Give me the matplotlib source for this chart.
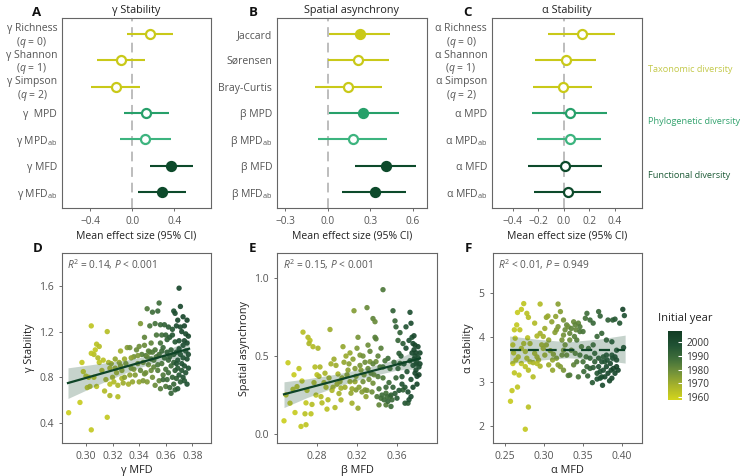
import numpy as np
import matplotlib
matplotlib.use("Agg")
import matplotlib.pyplot as plt
from matplotlib.colors import LinearSegmentedColormap, Normalize
from matplotlib.colorbar import ColorbarBase

plt.rcParams['font.family'] = ['Open Sans', 'DejaVu Sans']
plt.rcParams['mathtext.fontset'] = 'custom'
plt.rcParams['mathtext.rm'] = 'Open Sans'
plt.rcParams['mathtext.it'] = 'Open Sans:italic'
plt.rcParams['mathtext.bf'] = 'Open Sans:bold'

# ---------------- forest-plot data ----------------
A_labels = ['γ Richness\n($q$ = 0)', 'γ Shannon\n($q$ = 1)', 'γ Simpson\n($q$ = 2)',
            'γ  MPD', 'γ MPD$_{\\mathrm{ab}}$', 'γ MFD', 'γ MFD$_{\\mathrm{ab}}$']
A_mean = [0.17, -0.11, -0.16, 0.13, 0.12, 0.37, 0.28]
A_lo = [-0.05, -0.34, -0.39, -0.08, -0.12, 0.17, 0.05]
A_hi = [0.39, 0.12, 0.07, 0.35, 0.37, 0.58, 0.51]
A_filled = [False, False, False, False, False, True, True]

B_labels = ['Jaccard', 'Sørensen', 'Bray-Curtis', 'β MPD', 'β MPD$_{\\mathrm{ab}}$',
            'β MFD', 'β MFD$_{\\mathrm{ab}}$']
B_mean = [0.226, 0.21, 0.14, 0.25, 0.18, 0.41, 0.33]
B_lo = [0.007, 0.0, -0.09, 0.007, -0.07, 0.19, 0.10]
B_hi = [0.44, 0.43, 0.38, 0.50, 0.42, 0.62, 0.55]
B_filled = [True, False, False, True, False, True, True]

C_labels = ['α Richness\n($q$ = 0)', 'α Shannon\n($q$ = 1)', 'α Simpson\n($q$ = 2)',
            'α MPD', 'α MPD$_{\\mathrm{ab}}$', 'α MFD', 'α MFD$_{\\mathrm{ab}}$']
C_mean = [0.14, 0.015, -0.01, 0.05, 0.045, 0.01, 0.03]
C_lo = [-0.125, -0.225, -0.24, -0.245, -0.21, -0.28, -0.235]
C_hi = [0.40, 0.25, 0.22, 0.34, 0.29, 0.30, 0.29]
C_filled = [False, False, False, False, False, False, False]

row_groups = ['tax', 'tax', 'tax', 'phy', 'phy_ab', 'fun', 'fun']
group_names = ['Taxonomic diversity', 'Phylogenetic diversity', 'Functional diversity']

# ---------------- scatter data ----------------
d_x = [0.287,0.2955,0.297,0.298,0.300,0.302,0.301,0.303,0.304,0.304,
       0.306,0.304,0.307,0.308,0.309,0.310,0.310,0.306,0.308,0.312,
       0.313,0.314,0.316,0.316,0.315,0.317,0.318,0.318,0.318,0.319,
       0.320,0.321,0.322,0.322,0.323,0.324,0.324,0.325,0.326,0.327,
       0.327,0.328,0.329,0.330,0.331,0.332,0.333,0.333,0.334,0.335,
       0.336,0.337,0.338,0.339,0.340,0.340,0.341,0.341,0.342,0.343,
       0.343,0.344,0.344,0.345,0.345,0.346,0.346,0.347,0.347,0.348,
       0.348,0.349,0.349,0.350,0.350,0.350,0.351,0.352,0.352,0.352,
       0.353,0.353,0.354,0.354,0.355,0.355,0.355,0.356,0.356,0.356,
       0.357,0.357,0.358,0.358,0.359,0.359,0.360,0.360,0.360,0.361,
       0.361,0.362,0.362,0.362,0.363,0.363,0.364,0.364,0.364,0.365,
       0.365,0.366,0.366,0.366,0.366,0.367,0.367,0.367,0.368,0.368,
       0.368,0.369,0.369,0.369,0.370,0.370,0.370,0.370,0.371,0.371,
       0.371,0.372,0.372,0.372,0.373,0.373,0.373,0.373,0.374,0.374,
       0.374,0.374,0.375,0.375,0.375,0.376,0.376,0.376,0.376,0.377,
       0.377,0.377,0.367,0.369,0.365,0.368,0.371,0.363,0.361,0.358,
       0.357,0.354,0.351,0.349,0.346,0.344,0.339,0.336,0.334,0.329,
       0.326]
d_y = [0.49,0.58,0.93,0.85,0.81,0.80,0.71,0.72,0.34,1.25,
       1.00,1.01,1.04,1.09,0.97,0.93,1.07,0.80,0.72,0.86,
       0.95,0.68,0.45,1.20,0.78,0.93,0.88,0.74,0.64,0.92,
       0.80,0.76,0.88,0.96,0.84,0.63,0.73,0.93,0.90,0.79,
       0.86,0.75,0.80,0.92,1.06,0.74,1.06,0.82,0.88,0.76,
       0.98,0.82,1.04,0.92,0.76,1.07,1.27,0.86,1.00,0.93,
       0.77,1.15,1.08,0.84,0.99,1.40,0.76,1.03,0.91,1.25,
       1.02,0.86,0.96,1.37,1.02,0.80,0.89,1.27,1.04,0.73,
       1.17,0.98,1.38,0.86,1.45,1.00,0.77,1.26,1.10,0.70,
       1.17,0.92,1.06,0.82,1.26,0.97,1.17,0.87,0.72,1.02,
       0.78,1.24,0.95,0.84,1.15,0.71,1.04,0.66,0.90,1.17,
       0.80,1.38,1.00,0.93,0.74,1.36,1.11,0.86,1.25,1.02,
       0.79,1.30,0.95,0.88,1.58,1.12,1.05,0.82,1.42,1.00,
       0.76,1.20,0.92,0.86,1.33,1.08,0.97,0.80,1.25,1.12,
       0.90,0.77,1.18,1.03,0.84,1.30,1.10,0.96,0.74,1.16,
       1.00,0.88,0.69,0.70,1.22,0.92,1.24,0.98,1.13,0.78,
       1.03,0.91,0.95,1.10,0.98,0.83,0.99,0.87,0.97,0.96,
       1.03]
d_year = [1960,1961,1962,1960,1963,1962,1961,1964,1962,1963,
          1965,1963,1962,1964,1966,1963,1965,1962,1964,1966,
          1964,1966,1962,1965,1967,1968,1966,1964,1967,1970,
          1968,1966,1970,1972,1969,1965,1967,1971,1973,1968,
          1972,1970,1974,1976,1975,1969,1978,1973,1976,1972,
          1978,1975,1980,1977,1972,1979,1976,1981,1983,1978,
          1976,1982,1980,1978,1984,1985,1975,1983,1979,1986,
          1983,1980,1985,1988,1984,1978,1982,1987,1985,1980,
          1986,1983,1990,1984,1988,1986,1982,1990,1987,1984,
          1988,1986,1990,1985,1992,1989,1991,1987,1985,1993,
          1989,1994,1990,1988,1995,1990,1993,1991,1989,1996,
          1992,1998,1995,1993,1990,1999,1996,1994,2000,1997,
          1993,2001,1998,1995,2003,1999,2000,1996,2002,1998,
          1995,2001,1998,1996,2003,2000,1999,1997,2002,2001,
          1998,1996,2000,1999,1997,2004,2002,2000,1998,2003,
          2001,1999,1992,1995,1996,1997,2000,1993,1992,1990,
          1989,1986,1984,1982,1980,1979,1976,1975,1973,1970,
          1969]

e_x = [0.247,0.251,0.249,0.253,0.256,0.258,0.260,0.264,0.266,0.269,
       0.271,0.273,0.272,0.269,0.274,0.276,0.281,0.278,0.283,0.280,
       0.284,0.288,0.289,0.290,0.293,0.294,0.296,0.298,0.299,0.301,
       0.303,0.304,0.304,0.306,0.309,0.311,0.313,0.314,0.315,0.317,
       0.316,0.318,0.319,0.321,0.321,0.323,0.324,0.326,0.328,0.329,
       0.330,0.331,0.333,0.334,0.336,0.336,0.338,0.339,0.339,0.341,
       0.342,0.346,0.344,0.346,0.349,0.349,0.351,0.353,0.354,0.356,
       0.358,0.359,0.361,0.362,0.363,0.365,0.366,0.368,0.369,0.371,
       0.373,0.374,0.375,0.376,0.377,0.378,0.379,0.379,0.380,0.381,
       0.382,0.383,
       0.262,0.257,0.265,0.268,0.270,0.275,0.277,0.279,0.282,0.285,
       0.287,0.291,0.292,0.295,0.297,0.300,0.302,0.305,0.307,0.308,
       0.310,0.312,0.313,0.315,0.318,0.319,0.320,0.322,0.323,0.325,
       0.326,0.327,0.328,0.330,0.331,0.332,0.333,0.335,0.336,0.337,
       0.338,0.340,0.341,0.342,0.343,0.344,0.345,0.346,0.347,0.348,
       0.349,0.350,0.351,0.352,0.353,0.354,0.355,0.356,0.357,0.358,
       0.359,0.360,0.361,0.362,0.363,0.364,0.365,0.366,0.367,0.368,
       0.369,0.370,0.371,0.372,0.373,0.374,0.375,0.376,0.376,0.377,
       0.377,0.378,0.378,0.379,0.380,0.380,0.381,0.382,0.383,0.372,
       0.374]
e_y = [0.085,0.457,0.251,0.198,0.287,0.138,0.304,0.049,0.653,0.060,
       0.620,0.600,0.580,0.200,0.130,0.560,0.550,0.430,0.430,0.380,
       0.240,0.390,0.300,0.160,0.670,0.450,0.300,0.170,0.440,0.385,
       0.336,0.294,0.219,0.560,0.500,0.410,0.336,0.262,0.198,0.790,
       0.480,0.336,0.283,0.166,0.620,0.506,0.410,0.336,0.283,0.240,
       0.810,0.570,0.464,0.390,0.326,0.740,0.720,0.610,0.464,0.368,
       0.187,0.925,0.550,0.430,0.262,0.187,0.485,0.240,0.177,0.790,
       0.725,0.687,0.600,0.517,0.453,0.368,0.283,0.198,0.687,0.198,
       0.780,0.710,0.620,0.580,0.540,0.500,0.450,0.410,0.370,0.560,
       0.430,0.520,
       0.42,0.38,0.34,0.13,0.28,0.19,0.33,0.25,0.37,0.20,
       0.33,0.22,0.36,0.28,0.48,0.32,0.26,0.36,0.46,0.30,
       0.38,0.45,0.52,0.29,0.42,0.37,0.55,0.30,0.44,0.27,
       0.50,0.38,0.46,0.28,0.42,0.35,0.53,0.27,0.45,0.38,
       0.62,0.24,0.50,0.29,0.43,0.23,0.25,0.36,0.22,0.47,
       0.30,0.24,0.21,0.33,0.42,0.25,0.22,0.30,0.46,0.26,
       0.36,0.23,0.42,0.28,0.65,0.50,0.32,0.58,0.45,0.30,
       0.55,0.40,0.27,0.60,0.47,0.35,0.52,0.44,0.30,0.63,
       0.48,0.39,0.57,0.52,0.46,0.32,0.49,0.38,0.45,0.22,
       0.24]
e_year = [1960,1961,1962,1960,1963,1961,1964,1962,1965,1963,
          1966,1964,1967,1962,1963,1966,1968,1965,1967,1964,
          1966,1968,1965,1964,1970,1969,1967,1966,1970,1968,
          1971,1969,1967,1972,1971,1973,1970,1972,1969,1975,
          1974,1972,1975,1971,1977,1976,1974,1978,1976,1973,
          1980,1979,1977,1981,1978,1982,1980,1983,1979,1984,
          1981,1985,1983,1986,1987,1984,1988,1986,1989,1992,
          1990,1993,1991,1994,1990,1995,1992,1996,1997,1994,
          1999,2000,1998,2002,2001,1999,2003,2000,2002,2004,
          2001,2003,
          1963,1961,1962,1964,1963,1965,1966,1964,1967,1965,
          1968,1966,1969,1967,1970,1968,1969,1971,1972,1970,
          1973,1974,1972,1971,1975,1973,1976,1974,1977,1975,
          1978,1976,1979,1977,1980,1978,1981,1979,1982,1980,
          1983,1985,1982,1986,1984,1987,1988,1985,1989,1986,
          1990,1988,1991,1989,1987,1992,1990,1993,1989,1994,
          1991,1995,1992,1996,1993,1995,1997,1994,1998,1996,
          1999,1997,2000,1998,2001,1999,2002,2000,2003,2001,
          2004,2002,2003,2005,2001,2004,2002,2005,2003,1999,
          2000]

f_x = [0.257,0.259,0.266,0.276,0.280,0.274,0.271,0.266,0.278,0.280,
       0.295,0.265,0.269,0.263,0.260,0.267,0.260,0.262,0.268,0.286,
       0.279,0.282,0.271,0.276,0.278,0.282,0.286,0.291,0.293,0.295,
       0.288,0.295,0.301,0.303,0.305,0.310,0.318,0.321,0.318,0.314,
       0.306,0.303,0.299,0.301,0.308,0.312,0.316,0.306,0.311,0.318,
       0.323,0.325,0.327,0.329,0.331,0.333,0.335,0.338,0.339,0.341,
       0.342,0.344,0.346,0.333,0.327,0.325,0.323,0.329,0.335,0.340,
       0.331,0.333,0.344,0.338,0.342,0.346,0.348,0.353,0.355,0.359,
       0.363,0.370,0.372,0.382,0.388,0.391,0.397,0.401,0.403,0.402,
       0.393,0.387,0.380,0.374,0.368,0.363,0.357,0.354,0.359,0.365,
       0.370,0.376,0.380,0.387,0.391,0.355,0.359,0.363,0.368,0.370,
       0.372,0.374,0.376,0.378,0.380,0.382,0.385,0.386,0.387,0.389,
       0.391,0.393,0.372,0.375,0.362,0.384,0.368,0.365,0.378,0.388,
       0.374,0.381,0.393,0.395,0.346,0.350,0.340,0.316,0.315,0.325,
       0.299,0.291,0.297,0.288,0.261,0.264,0.271,0.276,0.280,0.262,
       0.274,0.291,0.311,0.321,0.325,0.350,0.351,0.356]
f_y = [2.56,2.80,2.88,1.93,2.43,4.76,4.63,4.56,4.54,4.45,
       4.75,4.28,4.17,3.98,3.83,3.56,3.41,3.20,3.15,3.11,
       3.99,3.86,3.75,3.68,3.53,3.45,3.43,3.41,3.49,3.35,
       3.64,4.09,4.20,4.45,4.48,4.35,4.75,4.58,4.24,4.11,
       3.94,3.83,3.75,3.60,3.70,3.62,3.53,3.38,3.49,3.38,
       3.94,4.05,4.17,4.28,4.24,4.09,4.20,4.35,4.02,4.17,
       3.94,4.32,4.13,3.94,3.83,3.71,3.60,3.60,3.71,3.64,
       3.14,3.15,3.11,3.38,3.45,3.60,3.79,4.43,4.54,4.39,
       4.32,4.58,4.48,4.39,4.39,4.41,4.32,4.63,4.49,3.77,
       3.71,3.90,3.94,4.09,4.02,3.83,3.75,3.56,3.53,3.64,
       3.53,3.56,3.60,3.60,3.56,3.34,3.30,3.32,3.19,3.34,
       3.23,3.11,3.26,3.11,3.34,3.19,3.41,3.26,3.08,3.30,
       3.19,3.34,3.08,2.92,2.98,3.02,3.06,3.45,3.45,3.53,
       3.45,3.49,3.49,3.26,4.24,4.13,4.28,4.17,4.47,4.39,
       4.02,4.03,3.83,4.32,3.65,3.49,3.41,3.34,3.26,4.17,
       3.86,3.56,3.26,3.34,3.26,3.45,3.23,3.13]
f_year = [1961,1962,1963,1962,1964,1963,1962,1961,1964,1965,
          1966,1962,1963,1961,1960,1962,1961,1963,1962,1965,
          1964,1966,1963,1965,1964,1966,1967,1965,1968,1967,
          1966,1969,1970,1972,1971,1973,1974,1975,1976,1974,
          1971,1970,1968,1969,1972,1973,1975,1970,1972,1974,
          1977,1978,1979,1980,1978,1981,1982,1980,1983,1981,
          1984,1982,1985,1979,1977,1976,1978,1979,1981,1983,
          1984,1985,1986,1982,1984,1986,1985,1987,1988,1989,
          1990,1991,1992,1993,1994,1995,1996,2004,1998,2000,
          1997,1996,1993,1991,1990,1989,1988,1987,1990,1992,
          1994,1995,1997,1998,2000,1990,1992,1994,1996,1997,
          1998,2000,1999,2001,2000,2002,2001,2003,2002,2004,
          2003,2005,1999,2000,1995,2001,1998,1993,1996,1999,
          1997,1998,2001,2004,1984,1986,1982,1975,1973,1977,
          1969,1967,1968,1966,1961,1962,1963,1964,1965,1962,
          1964,1967,1972,1975,1977,1987,1989,1991]

# fitted lines and confidence bands
d_fit_x = [0.2865, 0.3775]
d_fit_y = [0.75, 1.05]
d_band_x = [0.2865, 0.31, 0.33, 0.35, 0.365, 0.3775]
d_band_lo = [0.615, 0.74, 0.84, 0.925, 0.96, 0.97]
d_band_hi = [0.883, 0.92, 0.95, 0.995, 1.06, 1.13]

e_fit_x = [0.247, 0.383]
e_fit_y = [0.255, 0.485]
e_band_x = [0.247, 0.27, 0.30, 0.33, 0.36, 0.383]
e_band_lo = [0.17, 0.234, 0.305, 0.365, 0.41, 0.42]
e_band_hi = [0.335, 0.354, 0.385, 0.425, 0.48, 0.55]

f_fit_x = [0.256, 0.404]
f_fit_y = [3.72, 3.72]
f_band_x = [0.256, 0.29, 0.33, 0.37, 0.404]
f_band_lo = [3.41, 3.48, 3.54, 3.50, 3.42]
f_band_hi = [4.03, 3.96, 3.90, 3.96, 4.05]

year_ticks = [1960, 1970, 1980, 1990, 2000]

# ---------------- styling ----------------
W, H = 744, 476
fig = plt.figure(figsize=(W / 100, H / 100), dpi=100)

def box(l, t, r, b):
    return [l / W, 1 - b / H, (r - l) / W, (b - t) / H]

col_line = {'tax': '#c9c919', 'phy': '#27a06a', 'phy_ab': '#3db47f', 'fun': '#0d4a2b'}
legend_cols = ['#c3c94a', '#33a36e', '#1f5c38']
frame_col = '#666666'
tick_col = '#555555'
text_col = '#222222'

def style_axes(ax):
    for s in ax.spines.values():
        s.set_color(frame_col)
        s.set_linewidth(0.8)
    ax.tick_params(colors=tick_col, labelcolor=tick_col, labelsize=7.3, length=2.5, width=0.6)

def fmt_one(v, p):
    if abs(v) < 1e-9:
        return '0.0'
    return ('%.1f' % v).replace('-', '\u2212')

def forest(ax, labels, mean, lo, hi, filled, xlim, xticks, title):
    ys = np.arange(1, len(labels) + 1)
    ax.axvline(0, color='#bdbdbd', lw=1.4, ls=(0, (5, 3)), zorder=1)
    for y, m, a, b, f, g in zip(ys, mean, lo, hi, filled, row_groups):
        c = col_line[g]
        ax.hlines(y, a, b, color=c, lw=1.5, zorder=2)
        ax.plot([m], [y], 'o', ms=6.5, mec=c, mfc=c if f else 'white', mew=1.6, zorder=3)
    ax.set_ylim(7.6, 0.4)
    ax.set_xlim(*xlim)
    ax.set_xticks(xticks)
    ax.xaxis.set_major_formatter(matplotlib.ticker.FuncFormatter(fmt_one))
    ax.set_yticks(ys)
    ax.set_yticklabels(labels)
    for t in ax.get_yticklabels():
        t.set_multialignment('center')
        t.set_linespacing(1.05)
    style_axes(ax)
    ax.tick_params(axis='y', labelsize=7.5, length=0)
    ax.set_title(title, fontsize=7.8, color=text_col, pad=3.5)
    ax.set_xlabel('Mean effect size (95% CI)', fontsize=7.5, color=text_col, labelpad=2)

axA = fig.add_axes(box(62, 18, 211, 208))
forest(axA, A_labels, A_mean, A_lo, A_hi, A_filled, (-0.67, 0.75), [-0.4, 0.0, 0.4], 'γ Stability')
axB = fig.add_axes(box(277, 18, 427, 208))
forest(axB, B_labels, B_mean, B_lo, B_hi, B_filled, (-0.36, 0.70), [-0.3, 0.0, 0.3, 0.6], 'Spatial asynchrony')
axC = fig.add_axes(box(492, 18, 642, 208))
forest(axC, C_labels, C_mean, C_lo, C_hi, C_filled, (-0.56, 0.61), [-0.4, -0.2, 0.0, 0.2, 0.4], 'α Stability')

for name, yy, c in zip(group_names, [70, 122, 175], legend_cols):
    fig.text(648 / W, 1 - yy / H, name, color=c, fontsize=6.6, va='center', ha='left')

# colormap
cmap = LinearSegmentedColormap.from_list('yr', ['#d3d51c', '#a9b42a', '#73923a', '#3f6e3a', '#1f5133', '#123c24'])
norm = Normalize(vmin=1958, vmax=2008)

def scatter_panel(ax, x, y, yr, fx, fy, bx, blo, bhi, dashed, xlim, ylim, xticks, yticks, xfmt, yfmt,
                  xlabel, ylabel, note):
    n = min(len(x), len(y), len(yr))
    ax.scatter(x[:n], y[:n], c=yr[:n], cmap=cmap, norm=norm, s=15, linewidths=0, alpha=0.92, zorder=2)
    ax.fill_between(bx, blo, bhi, color='#2f5f45', alpha=0.27, lw=0, zorder=3)
    ax.plot(fx, fy, color='#0e4427', lw=1.6, ls=(0, (5, 3)) if dashed else '-', zorder=4)
    ax.set_xlim(*xlim)
    ax.set_ylim(*ylim)
    ax.set_xticks(xticks)
    ax.set_yticks(yticks)
    ax.xaxis.set_major_formatter(matplotlib.ticker.FormatStrFormatter(xfmt))
    ax.yaxis.set_major_formatter(matplotlib.ticker.FormatStrFormatter(yfmt))
    style_axes(ax)
    ax.tick_params(labelsize=7.5)
    ax.set_xlabel(xlabel, fontsize=7.8, color=text_col, labelpad=2)
    ax.set_ylabel(ylabel, fontsize=7.8, color=text_col, labelpad=3)
    ax.text(0.035, 0.94, note, transform=ax.transAxes, fontsize=7.3, color='#555555', va='center', ha='left')

axD = fig.add_axes(box(62, 253, 211, 443))
scatter_panel(axD, d_x, d_y, d_year, d_fit_x, d_fit_y, d_band_x, d_band_lo, d_band_hi, False,
              (0.282, 0.394), (0.225, 1.888), [0.30, 0.32, 0.34, 0.36, 0.38], [0.4, 0.8, 1.2, 1.6],
              '%.2f', '%.1f', 'γ MFD', 'γ Stability', '$R^2$ = 0.14, $P$ < 0.001')
axE = fig.add_axes(box(277, 253, 437, 443))
scatter_panel(axE, e_x, e_y, e_year, e_fit_x, e_fit_y, e_band_x, e_band_lo, e_band_hi, False,
              (0.240, 0.400), (-0.057, 1.16), [0.28, 0.32, 0.36], [0.0, 0.5, 1.0],
              '%.2f', '%.1f', 'β MFD', 'Spatial asynchrony', '$R^2$ = 0.15, $P$ < 0.001')
axF = fig.add_axes(box(493, 253, 642, 443))
scatter_panel(axF, f_x, f_y, f_year, f_fit_x, f_fit_y, f_band_x, f_band_lo, f_band_hi, True,
              (0.2346, 0.4256), (1.62, 5.9), [0.25, 0.30, 0.35, 0.40], [2, 3, 4, 5],
              '%.2f', '%d', 'α MFD', 'α Stability', '$R^2$ < 0.01, $P$ = 0.949')

# colorbar
cax = fig.add_axes(box(668, 331, 682, 400))
cb = ColorbarBase(cax, cmap=cmap, norm=norm, orientation='vertical')
cb.set_ticks(year_ticks)
cb.outline.set_visible(False)
cax.tick_params(length=3, width=0.8, color='white', direction='in', labelsize=7.2, labelcolor='#333333', pad=3)
fig.text(685 / W, 1 - 319 / H, 'Initial year', fontsize=8, color=text_col, ha='center', va='center')

# panel letters
for letter, (px, py) in zip('ABCDEF', [(37, 13), (253, 13), (468, 13), (38, 248), (253, 248), (468, 248)]):
    fig.text(px / W, 1 - py / H, letter, fontsize=9.5, fontweight='bold', color='#111111', ha='center', va='center')

fig.savefig('out.png', dpi=100)
